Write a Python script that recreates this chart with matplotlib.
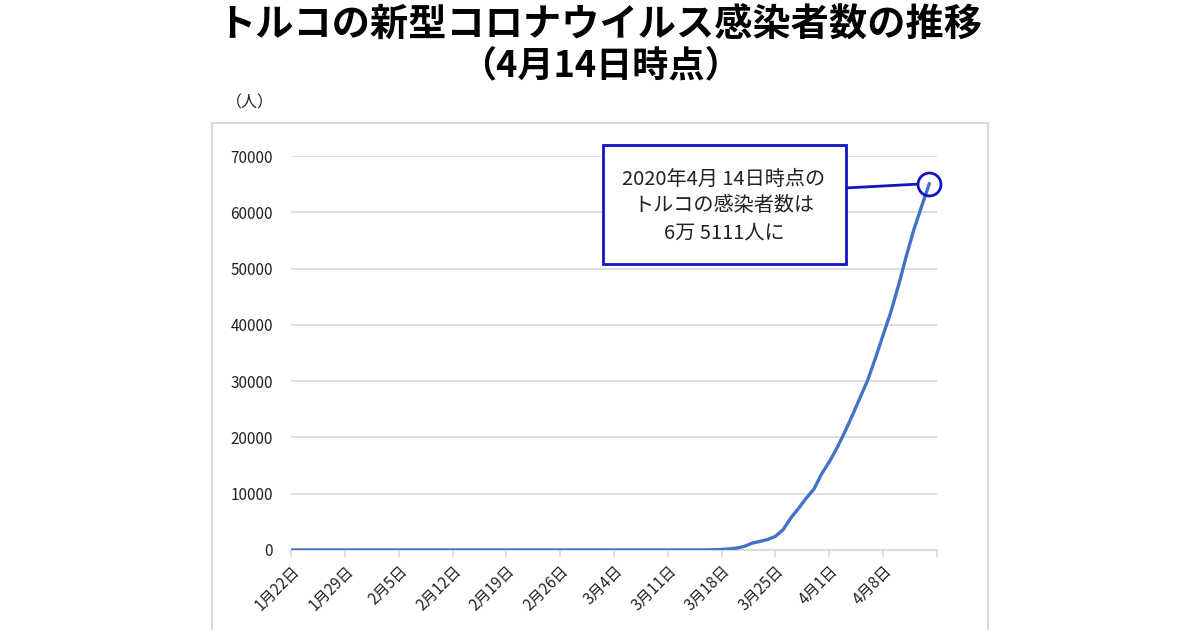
import matplotlib
matplotlib.use("Agg")
import matplotlib.pyplot as plt
from matplotlib.patches import Rectangle

plt.rcParams['font.family'] = ['Noto Sans CJK JP', 'DejaVu Sans']

# ---- data (daily cumulative cases, 2020-01-22 .. 2020-04-14) ----
cases = [
    0, 0, 0, 0, 0, 0, 0, 0, 0, 0,            # Jan 22-31
    0, 0, 0, 0, 0, 0, 0, 0, 0, 0,            # Feb 1-10
    0, 0, 0, 0, 0, 0, 0, 0, 0, 0,            # Feb 11-20
    0, 0, 0, 0, 0, 0, 0, 0, 0,               # Feb 21-29
    0, 0, 0, 0, 0, 0, 0, 0, 0, 0,            # Mar 1-10
    1, 1, 5, 5, 6, 18, 47, 98, 192, 359,     # Mar 11-20
    670, 1236, 1529, 1872, 2433, 3629, 5698, 7402, 9217, 10827,  # Mar 21-30
    13531, 15679, 18135, 20921, 23934, 27069, 30217, 34109, 38226, 42282,  # Mar 31 - Apr 9
    47029, 52167, 56956, 61049, 65111,       # Apr 10-14
]
tick_labels = ["1月22日", "1月29日", "2月5日", "2月12日", "2月19日", "2月26日",
               "3月4日", "3月11日", "3月18日", "3月25日", "4月1日", "4月8日", ""]
y_ticks = [0, 10000, 20000, 30000, 40000, 50000, 60000, 70000]

title1 = "トルコの新型コロナウイルス感染者数の推移"
title2 = "（4月14日時点）"
unit_label = "（人）"
note = "2020年4月 14日時点の\nトルコの感染者数は\n6万 5111人に"

W, H = 1200, 630
fig = plt.figure(figsize=(12, 6.3), dpi=100)

def fx(px):
    return px / W

def fy(py):
    return 1 - py / H

# outer chart frame
fig.patches.append(Rectangle((fx(212), fy(640)), fx(988) - fx(212), fy(123) - fy(640),
                             transform=fig.transFigure, fill=False,
                             edgecolor='#D9D9D9', lw=1.5, clip_on=False))

ax = fig.add_axes([fx(291), fy(550), fx(937) - fx(291), fy(156) - fy(550)])
days = list(range(len(cases)))
line_blue = '#4472C4'
ax.plot(days, cases, color=line_blue, lw=2.4, solid_capstyle='round', zorder=3)

ax.set_xlim(0, 84)
ax.set_ylim(0, 70000)
ax.set_yticks(y_ticks)
ax.set_yticklabels([str(v) for v in y_ticks])
ax.set_xticks(list(range(0, 85, 7)))
ax.set_xticklabels(tick_labels, rotation=45, ha='right', va='top',
                   rotation_mode='anchor')
ax.grid(axis='y', color='#D9D9D9', lw=1.2)
ax.set_axisbelow(True)
for s in ['top', 'right', 'left']:
    ax.spines[s].set_visible(False)
ax.spines['bottom'].set_color('#D9D9D9')
ax.spines['bottom'].set_linewidth(1.2)
ax.tick_params(axis='y', length=0, labelsize=11, pad=13, labelcolor='#222222')
ax.tick_params(axis='x', length=5, color='#D9D9D9', width=1.2, labelsize=11,
               pad=4, labelcolor='#222222')

# circle on the last point
ann_blue = '#1414C4'
ax.plot([days[-1]], [cases[-1]], marker='o', ms=16.5, mfc='none', mec=ann_blue,
        mew=2, zorder=4, clip_on=False)

# connector line from the box to the circle
ax.annotate('', xy=(days[-1], cases[-1]), xycoords='data',
            xytext=(fx(845), fy(188)), textcoords='figure fraction',
            arrowprops=dict(arrowstyle='-', color=ann_blue, lw=2,
                            shrinkA=0, shrinkB=8.4))

# annotation box
fig.patches.append(Rectangle((fx(603), fy(264)), fx(846) - fx(603), fy(145) - fy(264),
                             transform=fig.transFigure, facecolor='white',
                             edgecolor=ann_blue, lw=2, zorder=5))
fig.text(fx(724), fy(206), note, ha='center', va='center', fontsize=14.5,
         color='#222222', linespacing=1.35, zorder=6)

# titles
fig.text(0.5, fy(25), title1, ha='center', va='center', fontsize=27.5,
         fontweight='bold', color='black')
fig.text(0.5, fy(66), title2, ha='center', va='center', fontsize=26,
         fontweight='bold', color='black')
fig.text(fx(250), fy(103), unit_label, ha='center', va='center', fontsize=11.5,
         color='#222222')

fig.savefig('out.png', dpi=100)
